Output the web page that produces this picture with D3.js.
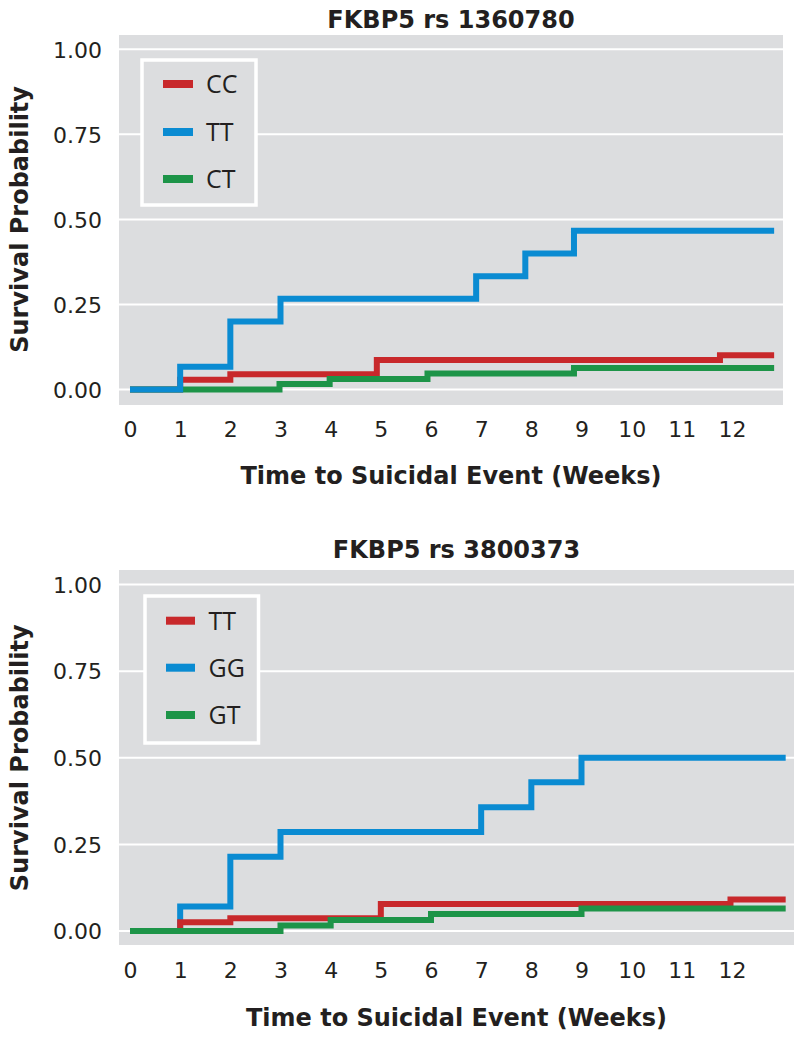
<!DOCTYPE html>
<html>
<head>
<meta charset="utf-8">
<script src="https://cdn.jsdelivr.net/npm/d3@7"></script>
<style>
  html, body { margin: 0; padding: 0; background: #ffffff; }
  svg { display: block; }
</style>
</head>
<body>
<svg id="chart" width="800" height="1039"></svg>
<script>
// ---------- data ----------
const weekTicks = [0, 1, 2, 3, 4, 5, 6, 7, 8, 9, 10, 11, 12];
const probTicks = [0, 0.25, 0.5, 0.75, 1];
const xAxisTitle = "Time to Suicidal Event (Weeks)";
const yAxisTitle = "Survival Probability";

// Panel 1: FKBP5 rs 1360780
const p1Title = "FKBP5 rs 1360780";
const p1Groups = ["CC", "TT", "CT"];
const p1CCTimes  = [0, 1, 2, 4.92, 11.76];
const p1CCValues = [0, 0.029, 0.045, 0.087, 0.101];
const p1TTTimes  = [0, 1, 2, 3, 6.9, 7.88, 8.85];
const p1TTValues = [0, 0.067, 0.200, 0.267, 0.333, 0.400, 0.467];
const p1CTTimes  = [0, 2.98, 3.98, 5.93, 8.85];
const p1CTValues = [0, 0.016, 0.031, 0.047, 0.063];
const p1EndTime = 12.84;

// Panel 2: FKBP5 rs 3800373
const p2Title = "FKBP5 rs 3800373";
const p2Groups = ["TT", "GG", "GT"];
const p2TTTimes  = [0, 1, 2, 5, 11.97];
const p2TTValues = [0, 0.025, 0.037, 0.078, 0.091];
const p2GGTimes  = [0, 1, 2, 3, 7, 8, 9];
const p2GGValues = [0, 0.071, 0.214, 0.286, 0.357, 0.429, 0.500];
const p2GTTimes  = [0, 3, 4, 6, 9];
const p2GTValues = [0, 0.016, 0.032, 0.049, 0.065];
const p2EndTime = 13.07;

// ---------- styles ----------
const seriesColors = ["#c8282b", "#0a8bd2", "#1d9448"]; // red, blue, green
const bgColor = "#dcdddf";
const tickFont = "'DejaVu Sans', 'Open Sans', sans-serif";
const boldFont = "'DejaVu Sans', 'Open Sans', sans-serif";
const legendFont = "'Liberation Sans Narrow', 'Open Sans', sans-serif";

const svg = d3.select("#chart");

function buildSeries(times, values, end) {
  const pts = times.map((t, i) => [t, values[i]]);
  pts.push([end, values[values.length - 1]]);
  return pts;
}

const panels = [
  {
    title: p1Title, titleY: 28,
    bg: { x0: 119, x1: 783, y0: 35, y1: 405 },
    yRange: [389.5, 49.3],
    groups: p1Groups,
    series: [
      buildSeries(p1CCTimes, p1CCValues, p1EndTime),
      buildSeries(p1TTTimes, p1TTValues, p1EndTime),
      buildSeries(p1CTTimes, p1CTValues, p1EndTime)
    ],
    drawOrder: [0, 2, 1],
    tickY: 437, xTitleY: 484,
    legend: { x: 142, y: 60, w: 114, h: 145, items: [84, 132, 179], sw0: 163, sw1: 193, lx: 206 }
  },
  {
    title: p2Title, titleY: 558,
    bg: { x0: 119, x1: 794, y0: 570, y1: 945 },
    yRange: [931, 584.5],
    groups: p2Groups,
    series: [
      buildSeries(p2TTTimes, p2TTValues, p2EndTime),
      buildSeries(p2GGTimes, p2GGValues, p2EndTime),
      buildSeries(p2GTTimes, p2GTValues, p2EndTime)
    ],
    drawOrder: [1, 0, 2],
    tickY: 978, xTitleY: 1026,
    legend: { x: 145, y: 596, w: 113.5, h: 147, items: [620.7, 667.7, 715], sw0: 166, sw1: 195, lx: 208.5 }
  }
];

panels.forEach(p => {
  const g = svg.append("g");
  const x = d3.scaleLinear().domain([0, 12]).range([130, 732]);
  const y = d3.scaleLinear().domain([0, 1]).range(p.yRange);

  // background
  g.append("rect")
    .attr("x", p.bg.x0).attr("y", p.bg.y0)
    .attr("width", p.bg.x1 - p.bg.x0).attr("height", p.bg.y1 - p.bg.y0)
    .attr("fill", bgColor);

  // gridlines
  g.selectAll("line.grid").data(probTicks).enter().append("line")
    .attr("class", "grid")
    .attr("x1", p.bg.x0).attr("x2", p.bg.x1)
    .attr("y1", d => y(d)).attr("y2", d => y(d))
    .attr("stroke", "#ffffff").attr("stroke-width", 2);

  // y axis tick labels
  const yAxis = d3.axisLeft(y).tickValues(probTicks).tickFormat(d3.format(".2f")).tickSize(0).tickPadding(0);
  const ya = g.append("g").attr("transform", "translate(102,0)").call(yAxis);
  ya.select(".domain").remove();
  ya.selectAll("text")
    .attr("font-family", tickFont).attr("font-size", 22).attr("fill", "#231f20")
    .attr("dy", "0.35em");

  // x axis tick labels
  const xAxis = d3.axisBottom(x).tickValues(weekTicks).tickFormat(d3.format("d")).tickSize(0).tickPadding(0);
  const xa = g.append("g").attr("transform", `translate(0,${p.tickY})`).call(xAxis);
  xa.select(".domain").remove();
  xa.selectAll("text")
    .attr("font-family", tickFont).attr("font-size", 22).attr("fill", "#231f20")
    .attr("dy", 0).attr("y", 0);

  // title
  g.append("text")
    .attr("x", (p.bg.x0 + p.bg.x1) / 2).attr("y", p.titleY)
    .attr("text-anchor", "middle")
    .attr("font-family", boldFont).attr("font-weight", "bold").attr("font-size", 24)
    .attr("fill", "#231f20")
    .text(p.title);

  // x axis title
  g.append("text")
    .attr("x", (p.bg.x0 + p.bg.x1) / 2).attr("y", p.xTitleY)
    .attr("text-anchor", "middle")
    .attr("font-family", boldFont).attr("font-weight", "bold").attr("font-size", 24)
    .attr("fill", "#231f20")
    .text(xAxisTitle);

  // y axis title
  const yc = (p.yRange[0] + p.yRange[1]) / 2;
  g.append("text")
    .attr("transform", `translate(28,${yc}) rotate(-90)`)
    .attr("text-anchor", "middle")
    .attr("font-family", boldFont).attr("font-weight", "bold").attr("font-size", 24)
    .attr("fill", "#231f20")
    .text(yAxisTitle);

  // lines
  const line = d3.line().x(d => x(d[0])).y(d => y(d[1])).curve(d3.curveStepAfter);
  p.drawOrder.forEach(i => {
    g.append("path")
      .datum(p.series[i])
      .attr("d", line)
      .attr("fill", "none")
      .attr("stroke", seriesColors[i])
      .attr("stroke-width", 6)
      .attr("stroke-linejoin", "miter")
      .attr("stroke-linecap", "butt");
  });

  // legend
  const L = p.legend;
  g.append("rect")
    .attr("x", L.x).attr("y", L.y).attr("width", L.w).attr("height", L.h)
    .attr("fill", bgColor).attr("stroke", "#ffffff").attr("stroke-width", 3.5);
  p.groups.forEach((name, i) => {
    g.append("line")
      .attr("x1", L.sw0).attr("x2", L.sw1)
      .attr("y1", L.items[i]).attr("y2", L.items[i])
      .attr("stroke", seriesColors[i]).attr("stroke-width", 8);
    g.append("text")
      .attr("x", L.lx).attr("y", L.items[i])
      .attr("dy", "0.36em")
      .attr("font-family", legendFont).attr("font-size", 25)
      .attr("fill", "#231f20")
      .text(name);
  });
});
</script>
</body>
</html>
